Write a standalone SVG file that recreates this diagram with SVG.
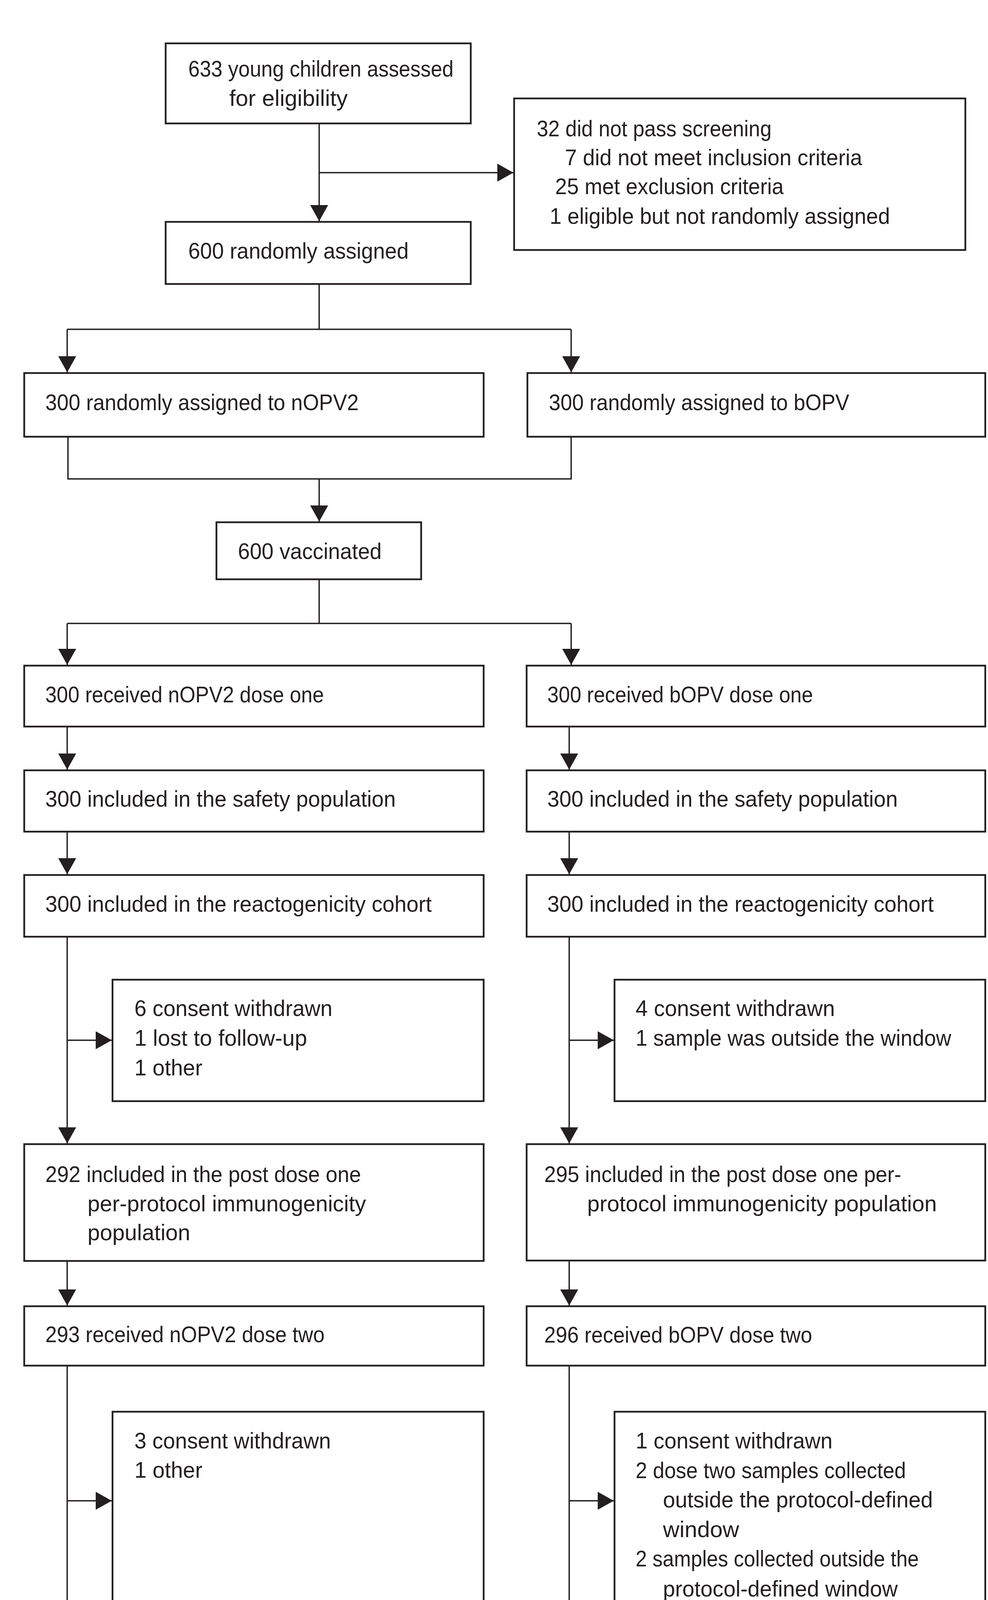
<svg xmlns="http://www.w3.org/2000/svg" width="2529" height="5590" viewBox="0 0 2529 5590">
<style>
.box{fill:#fff;stroke:#231f20;stroke-width:4.5}
.c{fill:none;stroke:#231f20;stroke-width:3.5}
text{font-family:"Liberation Sans",Arial,sans-serif;font-size:57px;fill:#231f20}
</style>
<defs>
<marker id="ah" markerUnits="userSpaceOnUse" markerWidth="42" markerHeight="46" refX="41" refY="23" orient="auto" viewBox="0 0 42 46">
<path d="M0,0 L41,23 L0,46 z" fill="#231f20"/>
</marker>
</defs>
<rect width="2529" height="5590" fill="#fff"/>
<g id="connectors">
<path class="c" d="M817,316 V566" marker-end="url(#ah)"/>
<path class="c" d="M817,442 H1314" marker-end="url(#ah)"/>
<path class="c" d="M817,727 V843 M172,843 H1462"/>
<path class="c" d="M172,843 V953" marker-end="url(#ah)"/>
<path class="c" d="M1462,843 V953" marker-end="url(#ah)"/>
<path class="c" d="M174,1118 V1226 H1462 V1118"/>
<path class="c" d="M817,1226 V1335" marker-end="url(#ah)"/>
<path class="c" d="M817,1483 V1596 M172,1596 H1462"/>
<path class="c" d="M172,1596 V1702" marker-end="url(#ah)"/>
<path class="c" d="M1462,1596 V1702" marker-end="url(#ah)"/>
<path class="c" d="M172,1860 V1970" marker-end="url(#ah)"/>
<path class="c" d="M1457,1860 V1970" marker-end="url(#ah)"/>
<path class="c" d="M172,2129 V2238" marker-end="url(#ah)"/>
<path class="c" d="M1457,2129 V2238" marker-end="url(#ah)"/>
<path class="c" d="M172,2398 V2927" marker-end="url(#ah)"/>
<path class="c" d="M172,2663 H286" marker-end="url(#ah)"/>
<path class="c" d="M1457,2398 V2927" marker-end="url(#ah)"/>
<path class="c" d="M1457,2663 H1571" marker-end="url(#ah)"/>
<path class="c" d="M172,3228 V3342" marker-end="url(#ah)"/>
<path class="c" d="M1457,3227 V3342" marker-end="url(#ah)"/>
<path class="c" d="M172,3496 V4258" marker-end="url(#ah)"/>
<path class="c" d="M172,3842 H286" marker-end="url(#ah)"/>
<path class="c" d="M1457,3496 V4258" marker-end="url(#ah)"/>
<path class="c" d="M1457,3842 H1571" marker-end="url(#ah)"/>
</g>
<g id="n_assessed">
<rect class="box" x="424" y="111" width="781" height="205"/>
<text x="482" y="196" textLength="679" lengthAdjust="spacingAndGlyphs">633 young children assessed</text>
<text x="587" y="271" textLength="303" lengthAdjust="spacingAndGlyphs">for eligibility</text>
</g>
<g id="n_screenfail">
<rect class="box" x="1316" y="252" width="1155" height="388"/>
<text x="1374" y="349" textLength="601" lengthAdjust="spacingAndGlyphs">32 did not pass screening</text>
<text x="1446" y="423" textLength="761" lengthAdjust="spacingAndGlyphs">7 did not meet inclusion criteria</text>
<text x="1421" y="497" textLength="585" lengthAdjust="spacingAndGlyphs">25 met exclusion criteria</text>
<text x="1407" y="573" textLength="871" lengthAdjust="spacingAndGlyphs">1 eligible but not randomly assigned</text>
</g>
<g id="n_randomised">
<rect class="box" x="424" y="568" width="781" height="159"/>
<text x="482" y="662" textLength="564" lengthAdjust="spacingAndGlyphs">600 randomly assigned</text>
</g>
<g id="n_assign_nopv2">
<rect class="box" x="62" y="955" width="1176" height="163"/>
<text x="116" y="1050" textLength="802" lengthAdjust="spacingAndGlyphs">300 randomly assigned to nOPV2</text>
</g>
<g id="n_assign_bopv">
<rect class="box" x="1350" y="955" width="1172" height="163"/>
<text x="1405" y="1050" textLength="769" lengthAdjust="spacingAndGlyphs">300 randomly assigned to bOPV</text>
</g>
<g id="n_vaccinated">
<rect class="box" x="554" y="1337" width="524" height="146"/>
<text x="609" y="1431" textLength="368" lengthAdjust="spacingAndGlyphs">600 vaccinated</text>
</g>
<g id="n_dose1_nopv2">
<rect class="box" x="62" y="1704" width="1176" height="156"/>
<text x="116" y="1798" textLength="713" lengthAdjust="spacingAndGlyphs">300 received nOPV2 dose one</text>
</g>
<g id="n_dose1_bopv">
<rect class="box" x="1348" y="1704" width="1174" height="156"/>
<text x="1401" y="1798" textLength="680" lengthAdjust="spacingAndGlyphs">300 received bOPV dose one</text>
</g>
<g id="n_safety_nopv2">
<rect class="box" x="62" y="1972" width="1176" height="157"/>
<text x="116" y="2065" textLength="897" lengthAdjust="spacingAndGlyphs">300 included in the safety population</text>
</g>
<g id="n_safety_bopv">
<rect class="box" x="1348" y="1972" width="1174" height="157"/>
<text x="1401" y="2065" textLength="897" lengthAdjust="spacingAndGlyphs">300 included in the safety population</text>
</g>
<g id="n_reacto_nopv2">
<rect class="box" x="62" y="2240" width="1176" height="158"/>
<text x="116" y="2334" textLength="989" lengthAdjust="spacingAndGlyphs">300 included in the reactogenicity cohort</text>
</g>
<g id="n_reacto_bopv">
<rect class="box" x="1348" y="2240" width="1174" height="158"/>
<text x="1401" y="2334" textLength="989" lengthAdjust="spacingAndGlyphs">300 included in the reactogenicity cohort</text>
</g>
<g id="n_excl1_nopv2">
<rect class="box" x="288" y="2508" width="950" height="311"/>
<text x="344" y="2601" textLength="507" lengthAdjust="spacingAndGlyphs">6 consent withdrawn</text>
<text x="344" y="2677" textLength="442" lengthAdjust="spacingAndGlyphs">1 lost to follow-up</text>
<text x="344" y="2753" textLength="174" lengthAdjust="spacingAndGlyphs">1 other</text>
</g>
<g id="n_excl1_bopv">
<rect class="box" x="1573" y="2508" width="949" height="311"/>
<text x="1627" y="2601" textLength="510" lengthAdjust="spacingAndGlyphs">4 consent withdrawn</text>
<text x="1627" y="2677" textLength="808" lengthAdjust="spacingAndGlyphs">1 sample was outside the window</text>
</g>
<g id="n_pp1_nopv2">
<rect class="box" x="62" y="2929" width="1176" height="299"/>
<text x="116" y="3026" textLength="808" lengthAdjust="spacingAndGlyphs">292 included in the post dose one</text>
<text x="224" y="3101" textLength="713" lengthAdjust="spacingAndGlyphs">per-protocol immunogenicity</text>
<text x="224" y="3175" textLength="263" lengthAdjust="spacingAndGlyphs">population</text>
</g>
<g id="n_pp1_bopv">
<rect class="box" x="1348" y="2929" width="1174" height="298"/>
<text x="1393" y="3026" textLength="914" lengthAdjust="spacingAndGlyphs">295 included in the post dose one per-</text>
<text x="1503" y="3101" textLength="895" lengthAdjust="spacingAndGlyphs">protocol immunogenicity population</text>
</g>
<g id="n_dose2_nopv2">
<rect class="box" x="62" y="3344" width="1176" height="152"/>
<text x="116" y="3436" textLength="715" lengthAdjust="spacingAndGlyphs">293 received nOPV2 dose two</text>
</g>
<g id="n_dose2_bopv">
<rect class="box" x="1348" y="3344" width="1174" height="152"/>
<text x="1393" y="3437" textLength="686" lengthAdjust="spacingAndGlyphs">296 received bOPV dose two</text>
</g>
<g id="n_excl2_nopv2">
<rect class="box" x="288" y="3614" width="950" height="538"/>
<text x="344" y="3708" textLength="503" lengthAdjust="spacingAndGlyphs">3 consent withdrawn</text>
<text x="344" y="3783" textLength="174" lengthAdjust="spacingAndGlyphs">1 other</text>
</g>
<g id="n_excl2_bopv">
<rect class="box" x="1573" y="3614" width="949" height="528"/>
<text x="1627" y="3708" textLength="504" lengthAdjust="spacingAndGlyphs">1 consent withdrawn</text>
<text x="1627" y="3784" textLength="692" lengthAdjust="spacingAndGlyphs">2 dose two samples collected</text>
<text x="1697" y="3859" textLength="691" lengthAdjust="spacingAndGlyphs">outside the protocol-defined</text>
<text x="1697" y="3935" textLength="195" lengthAdjust="spacingAndGlyphs">window</text>
<text x="1627" y="4010" textLength="725" lengthAdjust="spacingAndGlyphs">2 samples collected outside the</text>
<text x="1697" y="4087" textLength="601" lengthAdjust="spacingAndGlyphs">protocol-defined window</text>
</g>
<g id="n_pp2_nopv2">
<rect class="box" x="62" y="4260" width="1176" height="307"/>
<text x="116" y="4354" textLength="814" lengthAdjust="spacingAndGlyphs">289 included in the post dose two</text>
<text x="230" y="4429" textLength="713" lengthAdjust="spacingAndGlyphs">per-protocol immunogenicity</text>
<text x="230" y="4506" textLength="263" lengthAdjust="spacingAndGlyphs">population</text>
</g>
<g id="n_pp2_bopv">
<rect class="box" x="1348" y="4260" width="1174" height="307"/>
<text x="1401" y="4354" textLength="810" lengthAdjust="spacingAndGlyphs">291 included in the post dose two</text>
<text x="1509" y="4429" textLength="713" lengthAdjust="spacingAndGlyphs">per-protocol immunogenicity</text>
<text x="1509" y="4506" textLength="263" lengthAdjust="spacingAndGlyphs">population</text>
</g>
</svg>
